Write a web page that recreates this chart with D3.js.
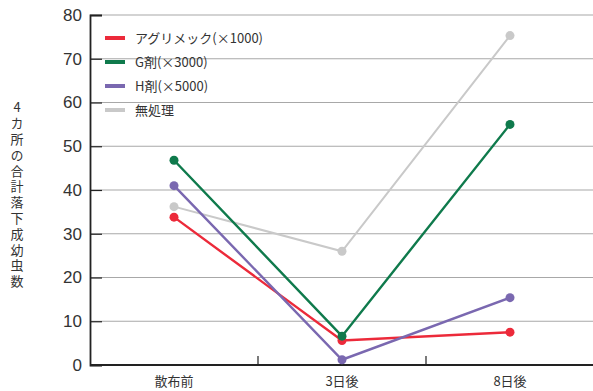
<!DOCTYPE html>
<html>
<head>
<meta charset="utf-8">
<script src="https://cdn.jsdelivr.net/npm/d3@7"></script>
<style>
  html, body { margin: 0; padding: 0; background: #fff; }
  svg { display: block; font-family: "Noto Sans CJK JP", "Noto Sans", sans-serif; }
</style>
</head>
<body>
<svg id="chart" width="593" height="391"></svg>
<script>
// Sampling days
const categories = ["散布前", "3日後", "8日後"];

// Counts of fallen larvae/adults (total of 4 sites)
const agrimek = [33.8, 5.6, 7.5];
const gAgent = [46.8, 6.6, 55.0];
const hAgent = [41.0, 1.2, 15.4];
const untreated = [36.2, 26.0, 75.3];

const seriesNames = ["アグリメック(×1000)", "G剤(×3000)", "H剤(×5000)", "無処理"];
const seriesColors = ["#ec2a3a", "#0f7a4c", "#7a68b0", "#c9c9c9"];
const seriesValues = [agrimek, gAgent, hAgent, untreated];

const yTicks = [0, 10, 20, 30, 40, 50, 60, 70, 80];
const yTitle = "4カ所の合計落下成幼虫数";

const svg = d3.select("#chart");
const plotLeft = 90, plotRight = 594, plotTop = 15, plotBottom = 365;

const x = d3.scaleBand().domain(categories).range([plotLeft, plotRight]).padding(0);
const y = d3.scaleLinear().domain([0, 80]).range([plotBottom, plotTop]);

// horizontal gridlines
svg.append("g").selectAll("line")
  .data(yTicks.filter(d => d > 0))
  .join("line")
  .attr("x1", plotLeft).attr("x2", 593)
  .attr("y1", d => y(d)).attr("y2", d => y(d))
  .attr("stroke", "#a8a8a8").attr("stroke-width", 1.2);

// y axis with inward ticks
const yAxis = svg.append("g")
  .attr("transform", `translate(${plotLeft},0)`)
  .call(d3.axisLeft(y).tickValues(yTicks).tickSize(-12).tickPadding(8));
yAxis.select(".domain").attr("stroke", "#222").attr("stroke-width", 1.8);
yAxis.selectAll(".tick line").attr("stroke", "#222").attr("stroke-width", 1.2);
yAxis.selectAll(".tick text")
  .attr("font-size", 17).attr("fill", "#333")
  .attr("font-family", "'Liberation Sans', Arial, sans-serif");

// x axis with ticks between categories
svg.append("line")
  .attr("x1", plotLeft).attr("x2", 593)
  .attr("y1", plotBottom).attr("y2", plotBottom)
  .attr("stroke", "#222").attr("stroke-width", 2);
svg.append("g").selectAll("line")
  .data(categories.slice(1))
  .join("line")
  .attr("x1", d => x(d)).attr("x2", d => x(d))
  .attr("y1", plotBottom).attr("y2", plotBottom - 9)
  .attr("stroke", "#222").attr("stroke-width", 1.2);
svg.append("g").selectAll("text")
  .data(categories)
  .join("text")
  .attr("x", d => x(d) + x.bandwidth() / 2)
  .attr("y", 386)
  .attr("text-anchor", "middle")
  .attr("font-size", 13)
  .attr("fill", "#333")
  .text(d => d);

// y axis title, set vertically with upright glyphs
svg.append("text")
  .attr("x", 17)
  .attr("y", 101)
  .attr("font-size", 13)
  .attr("fill", "#333")
  .style("writing-mode", "vertical-rl")
  .style("text-orientation", "upright")
  .style("letter-spacing", "2.8px")
  .text(yTitle);

// series lines and markers
const cx = c => x(c) + x.bandwidth() / 2;
const line = d3.line().x((d, i) => cx(categories[i])).y(d => y(d));
const order = [3, 0, 2, 1];
order.forEach(k => {
  const g = svg.append("g");
  g.append("path")
    .datum(seriesValues[k])
    .attr("d", line)
    .attr("fill", "none")
    .attr("stroke", seriesColors[k])
    .attr("stroke-width", k === 3 ? 2 : 2.4);
  g.selectAll("circle")
    .data(seriesValues[k])
    .join("circle")
    .attr("cx", (d, i) => cx(categories[i]))
    .attr("cy", d => y(d))
    .attr("r", 4.5)
    .attr("fill", seriesColors[k]);
});

// legend
const legend = svg.append("g").attr("transform", "translate(105,38)");
seriesNames.forEach((name, i) => {
  const row = legend.append("g").attr("transform", `translate(0,${i * 24})`);
  row.append("line")
    .attr("x1", 0).attr("x2", 20)
    .attr("y1", 0).attr("y2", 0)
    .attr("stroke", seriesColors[i]).attr("stroke-width", 4);
  row.append("text")
    .attr("x", 30).attr("y", 5)
    .attr("font-size", 13)
    .attr("fill", "#333")
    .text(name);
});
</script>
</body>
</html>
